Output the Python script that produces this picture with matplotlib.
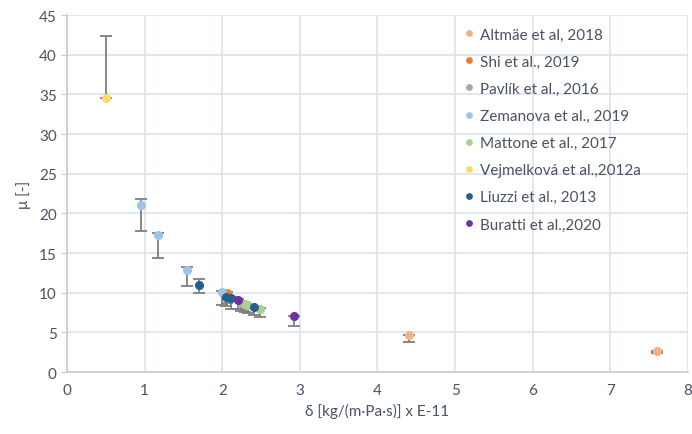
import matplotlib.pyplot as plt

plt.rcParams['font.family'] = ['Lato', 'DejaVu Sans']

# series: x (delta, E-11), mu, lower error, upper error
labels = ['Altmäe et al, 2018', 'Shi et al., 2019', 'Pavlík et al., 2016',
          'Zemanova et al., 2019', 'Mattone et al., 2017',
          'Vejmelková et al.,2012a', 'Liuzzi et al., 2013', 'Buratti et al.,2020']
colors = ['#F4B183', '#ED7D31', '#A5A5A5', '#9DC3E6', '#A9D18E',
          '#FFD966', '#255E91', '#7030A0']

altmae_x = [4.41, 7.60]
altmae_y = [4.65, 2.70]
altmae_lo = [0.85, 0.35]
altmae_hi = [0.0, 0.0]

shi_x = [2.06]
shi_y = [9.95]
shi_lo = [1.3]
shi_hi = [0.1]

pavlik_x = [2.24]
pavlik_y = [8.7]
pavlik_lo = [1.0]
pavlik_hi = [0.1]

zeman_x = [0.95, 1.17, 1.54, 1.99]
zeman_y = [21.0, 17.3, 12.9, 10.05]
zeman_lo = [3.2, 2.9, 2.1, 1.6]
zeman_hi = [0.8, 0.2, 0.3, 0.1]

mattone_x = [2.29, 2.33, 2.48]
mattone_y = [8.6, 8.4, 8.0]
mattone_lo = [1.0, 1.0, 1.1]
mattone_hi = [0.1, 0.1, 0.1]

vejm_x = [0.50]
vejm_y = [34.6]
vejm_lo = [0.0]
vejm_hi = [7.8]

liuzzi_x = [1.70, 2.05, 2.11, 2.41]
liuzzi_y = [11.0, 9.5, 9.3, 8.15]
liuzzi_lo = [1.1, 1.2, 1.3, 1.0]
liuzzi_hi = [0.7, 0.1, 0.1, 0.1]

buratti_x = [2.20, 2.93]
buratti_y = [9.1, 7.0]
buratti_lo = [1.2, 1.2]
buratti_hi = [0.1, 0.0]

series = [
    (altmae_x, altmae_y, altmae_lo, altmae_hi),
    (shi_x, shi_y, shi_lo, shi_hi),
    (pavlik_x, pavlik_y, pavlik_lo, pavlik_hi),
    (zeman_x, zeman_y, zeman_lo, zeman_hi),
    (mattone_x, mattone_y, mattone_lo, mattone_hi),
    (vejm_x, vejm_y, vejm_lo, vejm_hi),
    (liuzzi_x, liuzzi_y, liuzzi_lo, liuzzi_hi),
    (buratti_x, buratti_y, buratti_lo, buratti_hi),
]

text_col = '#4A5263'
grid_col = '#DDE2EA'

fig = plt.figure(figsize=(6.92, 4.35), dpi=100)
ax = fig.add_axes([0.097, 0.1425, 0.897, 0.8207])

for (xs, ys, lo, hi), lab, c in zip(series, labels, colors):
    ax.errorbar(xs, ys, yerr=[lo, hi], fmt='none', ecolor='#7F7F7F',
                elinewidth=1.3, capsize=4, capthick=1.3, zorder=2)
for (xs, ys, lo, hi), lab, c in zip(series, labels, colors):
    ax.plot(xs, ys, 'o', color=c, ms=5.5, label=lab, zorder=3)

ax.set_xlim(0, 8)
ax.set_ylim(0, 45)
ax.set_xticks(range(0, 9))
ax.set_yticks(range(0, 46, 5))
ax.grid(True, color=grid_col, lw=1.2, zorder=0)
ax.set_axisbelow(True)
for s in ['top', 'right']:
    ax.spines[s].set_visible(False)
for s in ['left', 'bottom']:
    ax.spines[s].set_color('#C5CCD8')
    ax.spines[s].set_linewidth(1.2)
ax.tick_params(axis='both', colors='#C5CCD8', labelcolor=text_col,
               labelsize=11, length=4)
ax.tick_params(axis='x', length=0, pad=8)

ax.set_xlabel('δ [kg/(m·Pa·s)] x E-11', color=text_col, fontsize=11, labelpad=4)
ax.set_ylabel('μ [-]', color=text_col, fontsize=11, labelpad=6)

leg = ax.legend(loc='upper left', bbox_to_anchor=(0.64, 0.965), frameon=False,
                fontsize=11, markerscale=0.7, handlelength=0.6,
                handletextpad=0.4, labelspacing=0.86, borderaxespad=0,
                borderpad=0)
for t in leg.get_texts():
    t.set_color(text_col)

fig.savefig('out.png', dpi=100)
